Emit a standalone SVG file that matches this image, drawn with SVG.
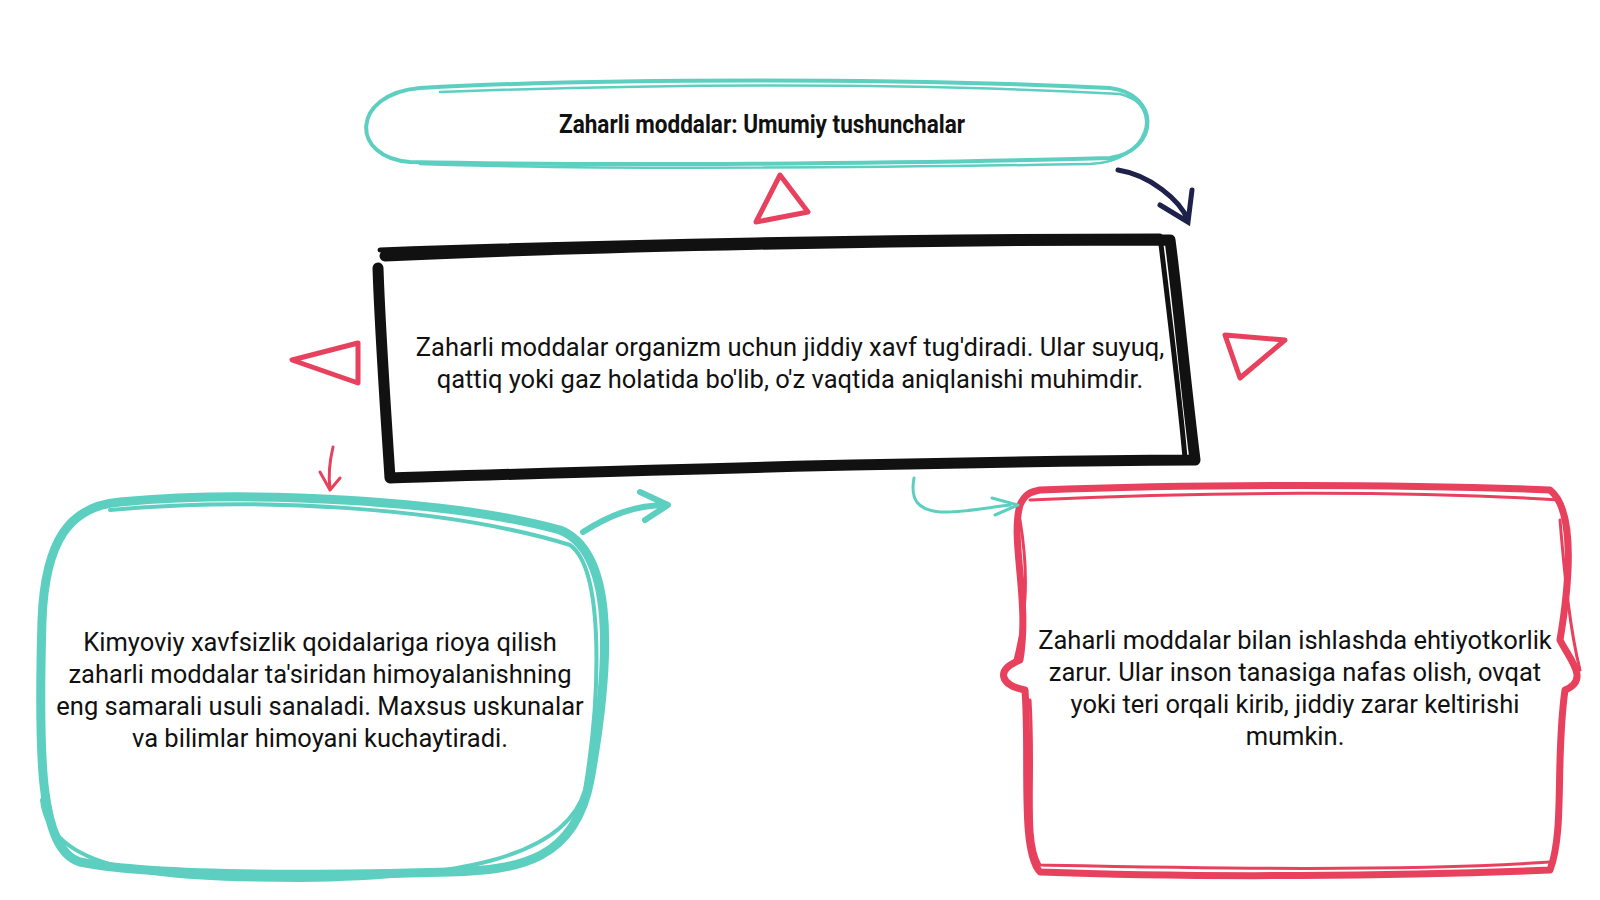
<svg xmlns="http://www.w3.org/2000/svg" width="1600" height="900" viewBox="0 0 1600 900">
<style>
.t{font-family:Roboto,"Noto Sans",sans-serif;font-size:25.5px;fill:#111;text-anchor:middle}
.title{font-family:Roboto,"Noto Sans",sans-serif;font-size:25px;font-weight:bold;fill:#111;text-anchor:middle}
.teal{fill:none;stroke:#5ccfc0;stroke-linecap:round;stroke-linejoin:round}
.red{fill:none;stroke:#e8415e;stroke-linecap:round;stroke-linejoin:round}
.blk{fill:none;stroke:#111;stroke-linecap:round;stroke-linejoin:round}
</style>
<rect width="1600" height="900" fill="#fff"/>
<g id="title">
<path class="teal" stroke-width="4" d="M420,88 C600,78 900,78 1110,88 C1160,94 1160,150 1110,158 C900,164 600,166 410,162 C350,158 350,94 420,88Z"/>
<path class="teal" stroke-width="2.5" d="M440,92 C650,84 900,82 1120,94 C1165,104 1150,162 1090,164 C850,168 600,170 420,164"/>
<text class="title" x="762" y="133" textLength="406" lengthAdjust="spacingAndGlyphs">Zaharli moddalar: Umumiy tushunchalar</text>
</g>
<g id="main">
<text class="t" x="790" y="356">Zaharli moddalar organizm uchun jiddiy xavf tug'diradi. Ular suyuq,</text>
<text class="t" x="790" y="388">qattiq yoki gaz holatida bo'lib, o'z vaqtida aniqlanishi muhimdir.</text>
<path class="blk" stroke-width="11" d="M385,256 C600,246 900,240 1170,240 C1178,300 1185,380 1195,460 C900,462 650,470 390,478 C385,400 380,330 378,268"/>
<path class="blk" stroke-width="5" d="M380,250 C600,242 900,236 1160,236 C1170,320 1180,400 1185,458"/>
</g>
<g id="left">
<path class="teal" stroke-width="9" d="M120,502 C250,490 450,500 560,530 C610,550 615,640 590,780 C575,860 520,870 450,872 C300,876 150,876 80,862 C40,850 38,760 42,620 C45,540 70,506 120,502Z"/>
<path class="teal" stroke-width="4" d="M110,510 C260,496 450,508 570,545 C605,570 600,700 585,790 C565,860 450,878 300,880 C150,880 50,870 42,800"/>
<text class="t" x="320" y="651">Kimyoviy xavfsizlik qoidalariga rioya qilish</text>
<text class="t" x="320" y="683">zaharli moddalar ta'siridan himoyalanishning</text>
<text class="t" x="320" y="715">eng samarali usuli sanaladi. Maxsus uskunalar</text>
<text class="t" x="320" y="747">va bilimlar himoyani kuchaytiradi.</text>
</g>
<g id="right">
<path class="red" stroke-width="7" d="M1040,490 C1200,484 1400,484 1550,490 C1575,510 1570,580 1560,640 C1570,660 1590,680 1565,690 C1555,760 1565,830 1550,870 C1400,876 1200,878 1040,872 C1020,850 1030,760 1025,690 C1000,685 995,670 1020,660 C1030,600 1010,540 1020,505 C1025,494 1030,492 1040,490Z"/>
<path class="red" stroke-width="3" d="M1030,500 C1200,492 1400,490 1560,500 M1020,520 C1030,580 1025,620 1015,660 M1560,520 C1565,580 1570,630 1580,670 M1030,700 C1035,780 1025,840 1040,865 C1200,868 1400,872 1550,862"/>
<text class="t" x="1295" y="649">Zaharli moddalar bilan ishlashda ehtiyotkorlik</text>
<text class="t" x="1295" y="681">zarur. Ular inson tanasiga nafas olish, ovqat</text>
<text class="t" x="1295" y="713">yoki teri orqali kirib, jiddiy zarar keltirishi</text>
<text class="t" x="1295" y="745">mumkin.</text>
</g>
<g id="connectors">
<path class="red" stroke-width="5" d="M780,175 L808,212 L756,222 Z"/>
<path class="red" stroke-width="5" d="M358,343 L292,360 L358,383 Z"/>
<path class="red" stroke-width="5" d="M1225,335 L1285,340 L1240,378 Z"/>
<path fill="none" stroke="#1e2149" stroke-width="5" stroke-linecap="round" d="M1118,170 C1150,175 1180,200 1188,220 M1160,205 L1188,222 L1192,190"/>
<path class="red" stroke-width="3" d="M333,447 C330,460 328,475 330,488 M320,472 L330,490 L340,478"/>
<path class="teal" stroke-width="6" d="M583,532 C610,515 635,505 667,505 M640,492 L668,505 L645,520"/>
<path class="teal" stroke-width="3" d="M914,478 C910,500 918,510 940,512 C960,513 985,508 1010,505 M992,498 L1018,505 L995,515"/>
</g>
</svg>
